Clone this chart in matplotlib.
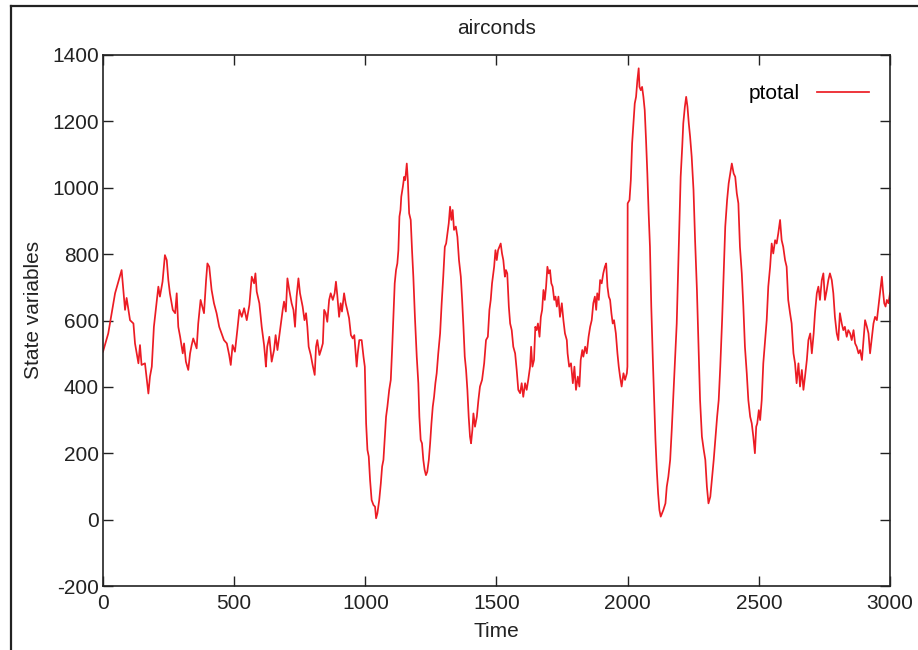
import matplotlib.pyplot as plt
from matplotlib.lines import Line2D

plt.rcParams["font.family"] = ["Liberation Sans", "DejaVu Sans"]
plt.rcParams["axes.unicode_minus"] = False

# ptotal series (time step, value)
time = [
    0, 20, 46, 71, 84, 90, 103, 116, 122, 135, 141, 147, 160, 173, 179, 186,
    194, 211, 217, 227, 236, 243, 249, 255, 266, 275, 281, 287, 294, 304, 309,
    316, 325, 332, 338, 344, 357, 363, 372, 385, 393, 398, 405, 414, 423, 433,
    443, 452, 461, 472, 481, 487, 494, 503, 512, 520, 529, 538, 548, 558, 567,
    576, 581, 586, 596, 605, 614, 618, 621, 626, 634, 643, 652, 658, 665, 675,
    685, 690, 697, 703, 710, 719, 726, 732, 738, 745, 751, 761, 768, 774, 779,
    784, 792, 799, 807, 812, 817, 825, 831, 838, 843, 849, 855, 862, 868, 876,
    883, 888, 893, 900, 906, 911, 919, 925, 931, 938, 945, 952, 958, 967, 971,
    977, 986, 993, 998, 1003, 1008, 1013, 1018, 1024, 1031, 1037, 1041, 1046,
    1053, 1059, 1064, 1069, 1075, 1079, 1084, 1091, 1097, 1102, 1107, 1112,
    1117, 1122, 1126, 1130, 1134, 1137, 1143, 1148, 1152, 1158, 1162, 1167,
    1173, 1178, 1183, 1189, 1196, 1202, 1206, 1211, 1216, 1221, 1226, 1231,
    1236, 1242, 1247, 1252, 1257, 1262, 1267, 1272, 1278, 1285, 1291, 1297,
    1303, 1308, 1313, 1318, 1323, 1328, 1333, 1338, 1345, 1351, 1357, 1364,
    1369, 1374, 1379, 1384, 1389, 1394, 1399, 1403, 1408, 1412, 1418, 1425,
    1431, 1437, 1445, 1453, 1460, 1467, 1473, 1478, 1483, 1491, 1496, 1501,
    1506, 1511, 1516, 1521, 1526, 1532, 1536, 1541, 1547, 1552, 1558, 1564,
    1571, 1577, 1583, 1590, 1596, 1602, 1609, 1615, 1621, 1628, 1632, 1637,
    1643, 1648, 1653, 1658, 1664, 1669, 1674, 1679, 1684, 1689, 1694, 1699,
    1704, 1709, 1714, 1720, 1725, 1730, 1736, 1742, 1749, 1755, 1761, 1768,
    1771, 1777, 1784, 1791, 1797, 1803, 1810, 1816, 1821, 1827, 1831, 1838,
    1844, 1851, 1857, 1863, 1869, 1875, 1880, 1884, 1890, 1895, 1901, 1907,
    1913, 1918, 1923, 1928, 1933, 1938, 1943, 1948, 1955, 1961, 1966, 1971,
    1977, 1984, 1990, 1997, 1999, 2000, 2007, 2012, 2017, 2022, 2027, 2032,
    2037, 2042, 2045, 2050, 2055, 2060, 2065, 2070, 2075, 2080, 2085, 2090,
    2096, 2101, 2106, 2111, 2116, 2121, 2126, 2131, 2136, 2144, 2149, 2155,
    2162, 2168, 2174, 2181, 2187, 2192, 2197, 2202, 2208, 2212, 2218, 2223,
    2228, 2233, 2238, 2244, 2251, 2257, 2264, 2270, 2276, 2283, 2290, 2296,
    2302, 2308, 2315, 2321, 2328, 2334, 2341, 2347, 2353, 2360, 2366, 2372,
    2379, 2385, 2391, 2397, 2404, 2410, 2416, 2422, 2428, 2435, 2441, 2447,
    2454, 2460, 2467, 2473, 2479, 2485, 2490, 2494, 2500, 2505, 2511, 2517,
    2524, 2530, 2536, 2543, 2549, 2555, 2562, 2568, 2574, 2581, 2587, 2593,
    2600, 2606, 2612, 2619, 2625, 2632, 2638, 2644, 2651, 2657, 2664, 2670,
    2676, 2683, 2689, 2696, 2702, 2709, 2714, 2721, 2727, 2733, 2740, 2746,
    2752, 2759, 2765, 2771, 2778, 2784, 2790, 2797, 2803, 2809, 2816, 2822,
    2828, 2835, 2841, 2848, 2854, 2861, 2867, 2873, 2880, 2886, 2893, 2899,
    2905, 2912, 2918, 2924, 2931, 2937, 2943, 2950, 2956, 2962, 2969, 2973,
    2978, 2983, 2988, 2994, 3000,
]
ptotal = [
    506, 561, 682, 752, 632, 668, 601, 591, 531, 471, 526, 466, 471, 380, 431, 461,
    581, 702, 672, 717, 797, 782, 722, 682, 632, 622, 682, 581, 551, 501, 531,
    476, 451, 501, 526, 546, 516, 591, 662, 622, 722, 772, 762, 692, 652, 622,
    581, 561, 541, 531, 496, 466, 526, 506, 571, 632, 611, 637, 601, 647, 732,
    712, 742, 687, 652, 581, 526, 491, 461, 521, 551, 476, 511, 556, 511, 571,
    632, 657, 627, 727, 692, 652, 632, 581, 672, 727, 682, 642, 601, 622, 581,
    521, 496, 466, 436, 521, 541, 496, 511, 531, 632, 622, 596, 662, 682, 662,
    682, 717, 677, 611, 652, 627, 682, 652, 632, 607, 556, 546, 556, 461, 501,
    541, 541, 491, 461, 290, 210, 190, 120, 59, 44, 39, 4, 19,
    59, 109, 160, 180, 260, 310, 340, 391, 421, 511, 611, 712,
    752, 772, 812, 913, 933, 973, 1003, 1033, 1023, 1073, 1023, 923,
    903, 812, 732, 611, 491, 411, 310, 240, 230, 180, 150, 134,
    144, 180, 230, 290, 340, 370, 411, 441, 501, 561, 652, 732,
    822, 832, 862, 893, 943, 903, 933, 873, 883, 852, 782, 732,
    662, 581, 491, 451, 391, 310, 250, 230, 270, 320, 280, 310,
    360, 401, 421, 471, 541, 551, 632, 662, 712, 762, 812, 782,
    812, 822, 832, 802, 782, 732, 752, 742, 642, 591, 571, 521,
    501, 451, 391, 381, 411, 370, 411, 391, 421, 461, 521, 461,
    481, 581, 571, 591, 551, 611, 632, 692, 662, 702, 762, 742,
    752, 712, 702, 662, 672, 642, 672, 611, 652, 601, 561, 541,
    501, 461, 471, 411, 461, 391, 431, 401, 481, 511, 491, 521,
    501, 551, 581, 601, 652, 672, 632, 682, 662, 722, 712, 742,
    762, 772, 702, 672, 662, 622, 591, 601, 561, 501, 461, 431,
    401, 441, 421, 441, 461, 953, 963, 1023, 1134, 1194, 1254, 1274,
    1324, 1360, 1304, 1294, 1304, 1274, 1234, 1144, 1043, 923, 822, 642,
    481, 360, 240, 150, 79, 29, 9, 19, 29, 49, 99, 129,
    180, 270, 370, 481, 591, 742, 893, 1033, 1124, 1194, 1244, 1274,
    1244, 1194, 1154, 1094, 993, 842, 692, 521, 360, 250, 210, 180,
    99, 49, 69, 119, 180, 240, 310, 360, 461, 601, 742, 883,
    963, 1013, 1043, 1073, 1043, 1033, 983, 953, 822, 742, 642, 521,
    441, 360, 310, 290, 250, 200, 280, 290, 330, 300, 360, 471,
    541, 601, 702, 762, 832, 802, 842, 832, 862, 903, 842, 822,
    782, 762, 662, 622, 591, 501, 471, 411, 471, 401, 451, 391,
    431, 481, 541, 561, 501, 561, 622, 682, 702, 662, 722, 742,
    662, 692, 722, 742, 722, 682, 611, 561, 541, 622, 591, 571,
    581, 551, 571, 561, 541, 571, 531, 521, 501, 511, 481, 541,
    601, 581, 561, 501, 551, 591, 611, 601, 642, 682, 732, 692,
    652, 642, 662, 652, 682,
]

line_color = "#ec1c24"
axis_color = "#222222"

fig = plt.figure(figsize=(9.18, 6.5), dpi=100)
ax = fig.add_axes([103 / 918, 64 / 650, 787 / 918, 531 / 650])

ax.plot(time, ptotal, color=line_color, lw=1.25, label="ptotal")

ax.set_xlim(0, 3000)
ax.set_ylim(-200, 1400)
ax.set_xticks(range(0, 3001, 500))
ax.set_yticks(range(-200, 1401, 200))

for side in ax.spines.values():
    side.set_color(axis_color)
    side.set_linewidth(1.2)

ax.tick_params(direction="in", top=True, right=True, length=7, width=1,
               color=axis_color, labelsize=15, labelcolor=axis_color)
ax.tick_params(axis="x", pad=6)
ax.tick_params(axis="y", pad=3)

ax.set_title("airconds", fontsize=15, color=axis_color, pad=15)
ax.set_xlabel("Time", fontsize=15, color=axis_color, labelpad=6)
ax.set_ylabel("State variables", fontsize=15, color=axis_color)
ax.yaxis.set_label_coords(-0.076, 0.52)

ax.legend(loc="upper right", bbox_to_anchor=(0.997, 0.98), frameon=False,
          markerfirst=False, fontsize=15, handlelength=2.5, handletextpad=0.8)

# outer frame around the page (left and top edges)
fig.add_artist(Line2D([11 / 918, 11 / 918], [0, 1 - 6 / 650],
                      transform=fig.transFigure, color=axis_color, lw=1.6))
fig.add_artist(Line2D([11 / 918, 1], [1 - 6 / 650, 1 - 6 / 650],
                      transform=fig.transFigure, color=axis_color, lw=1.6))

fig.savefig("out.png", dpi=100)
